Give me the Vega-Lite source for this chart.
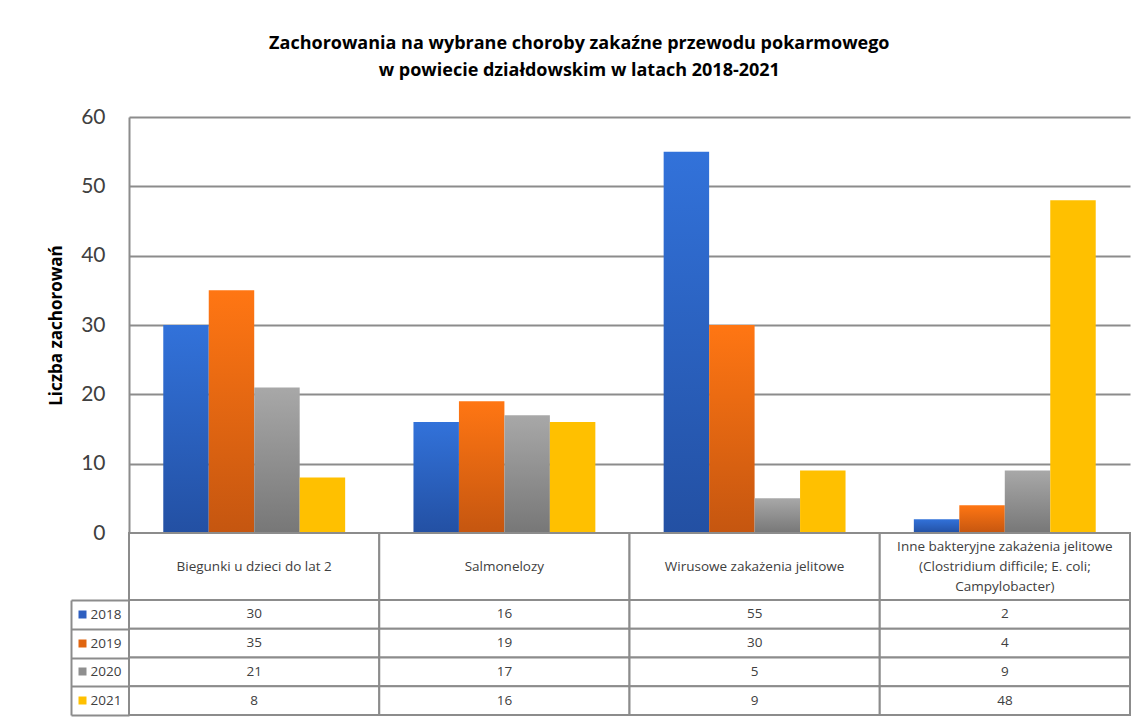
{
  "$schema": "https://vega.github.io/schema/vega-lite/v6.json",
  "background": "white",
  "padding": {"left": 47, "top": 35, "right": 10, "bottom": 4},
  "config": {"font": "Lato", "view": {"stroke": null}},
  "title": {
    "text": ["Zachorowania na wybrane choroby zakaźne przewodu pokarmowego", "w powiecie działdowskim w latach 2018-2021"],
    "font": "Open Sans", "fontSize": 18, "fontWeight": "bold", "color": "#000000", "anchor": "middle", "offset": 26, "dx": -10, "lineHeight": 27
  },
  "datasets": {
    "main": [
      {"category": "Biegunki u dzieci do lat 2", "year": "2018", "value": 30},
      {"category": "Biegunki u dzieci do lat 2", "year": "2019", "value": 35},
      {"category": "Biegunki u dzieci do lat 2", "year": "2020", "value": 21},
      {"category": "Biegunki u dzieci do lat 2", "year": "2021", "value": 8},
      {"category": "Salmonelozy", "year": "2018", "value": 16},
      {"category": "Salmonelozy", "year": "2019", "value": 19},
      {"category": "Salmonelozy", "year": "2020", "value": 17},
      {"category": "Salmonelozy", "year": "2021", "value": 16},
      {"category": "Wirusowe zakażenia jelitowe", "year": "2018", "value": 55},
      {"category": "Wirusowe zakażenia jelitowe", "year": "2019", "value": 30},
      {"category": "Wirusowe zakażenia jelitowe", "year": "2020", "value": 5},
      {"category": "Wirusowe zakażenia jelitowe", "year": "2021", "value": 9},
      {"category": "Inne bakteryjne zakażenia jelitowe (Clostridium difficile; E. coli; Campylobacter)", "year": "2018", "value": 2},
      {"category": "Inne bakteryjne zakażenia jelitowe (Clostridium difficile; E. coli; Campylobacter)", "year": "2019", "value": 4},
      {"category": "Inne bakteryjne zakażenia jelitowe (Clostridium difficile; E. coli; Campylobacter)", "year": "2020", "value": 9},
      {"category": "Inne bakteryjne zakażenia jelitowe (Clostridium difficile; E. coli; Campylobacter)", "year": "2021", "value": 48}
    ],
    "cats": [
      {"category": "Biegunki u dzieci do lat 2", "label": "Biegunki u dzieci do lat 2", "lines": 1},
      {"category": "Salmonelozy", "label": "Salmonelozy", "lines": 1},
      {"category": "Wirusowe zakażenia jelitowe", "label": "Wirusowe zakażenia jelitowe", "lines": 1},
      {"category": "Inne bakteryjne zakażenia jelitowe (Clostridium difficile; E. coli; Campylobacter)", "label": "Inne bakteryjne zakażenia jelitowe\n(Clostridium difficile; E. coli;\nCampylobacter)", "lines": 3}
    ]
  },
  "spacing": 0,
  "bounds": "flush",
  "resolve": {"scale": {"x": "independent", "y": "independent"}},
  "vconcat": [
    {
      "width": 1001, "height": 416,
      "data": {"name": "main"},
      "encoding": {
        "x": {"field": "category", "type": "nominal", "axis": null,
          "scale": {"domain": ["Biegunki u dzieci do lat 2", "Salmonelozy", "Wirusowe zakażenia jelitowe", "Inne bakteryjne zakażenia jelitowe (Clostridium difficile; E. coli; Campylobacter)"], "paddingInner": 0.273, "paddingOuter": 0.137}},
        "xOffset": {"field": "year", "type": "nominal", "scale": {"domain": ["2018", "2019", "2020", "2021"], "paddingInner": 0, "paddingOuter": 0}},
        "y": {"field": "value", "type": "quantitative",
          "scale": {"domain": [0, 60], "nice": false},
          "axis": {"values": [0, 10, 20, 30, 40, 50, 60], "title": "Liczba zachorowań", "titleFont": "Open Sans", "titleFontSize": 17, "titleFontWeight": "bold", "titleColor": "#000000", "titlePadding": 15,
            "labelFontSize": 21, "labelColor": "#404040", "labelPadding": 24, "ticks": false,
            "domain": true, "domainColor": "#8c8c8c", "domainWidth": 2,
            "grid": true, "gridColor": "#8c8c8c", "gridWidth": 2}}
      },
      "layer": [
        {"transform": [{"filter": "datum.year == '2018'"}],
         "mark": {"type": "bar", "color": {"gradient": "linear", "x1": 0, "y1": 0, "x2": 0, "y2": 1, "stops": [{"offset": 0, "color": "#3272da"}, {"offset": 1, "color": "#2350a3"}]}}},
        {"transform": [{"filter": "datum.year == '2019'"}],
         "mark": {"type": "bar", "color": {"gradient": "linear", "x1": 0, "y1": 0, "x2": 0, "y2": 1, "stops": [{"offset": 0, "color": "#ff7613"}, {"offset": 1, "color": "#c55610"}]}}},
        {"transform": [{"filter": "datum.year == '2020'"}],
         "mark": {"type": "bar", "color": {"gradient": "linear", "x1": 0, "y1": 0, "x2": 0, "y2": 1, "stops": [{"offset": 0, "color": "#a8a8a8"}, {"offset": 1, "color": "#777777"}]}}},
        {"transform": [{"filter": "datum.year == '2021'"}],
         "mark": {"type": "bar", "color": "#ffc000"}}
      ]
    },
    {
      "width": 1001, "height": 67,
      "data": {"name": "cats"},
      "encoding": {
        "x": {"field": "category", "type": "nominal", "axis": null,
          "scale": {"domain": ["Biegunki u dzieci do lat 2", "Salmonelozy", "Wirusowe zakażenia jelitowe", "Inne bakteryjne zakażenia jelitowe (Clostridium difficile; E. coli; Campylobacter)"], "paddingInner": 0, "paddingOuter": 0}}
      },
      "layer": [
        {"mark": {"type": "rect", "fill": "white", "stroke": "#8c8c8c", "strokeWidth": 2}},
        {"transform": [{"filter": "datum.lines == 1"}],
         "mark": {"type": "text", "font": "Open Sans", "fontSize": 13.5, "color": "#404040"},
         "encoding": {"text": {"field": "label"}}},
        {"transform": [{"filter": "datum.lines == 3"}],
         "mark": {"type": "text", "font": "Open Sans", "fontSize": 13.5, "color": "#404040", "lineBreak": "\n", "lineHeight": 20, "dy": -20},
         "encoding": {"text": {"field": "label"}}}
      ]
    },
    {
      "width": 1001, "height": 115,
      "data": {"name": "main"},
      "encoding": {
        "x": {"field": "category", "type": "nominal", "axis": null,
          "scale": {"domain": ["Biegunki u dzieci do lat 2", "Salmonelozy", "Wirusowe zakażenia jelitowe", "Inne bakteryjne zakażenia jelitowe (Clostridium difficile; E. coli; Campylobacter)"], "paddingInner": 0, "paddingOuter": 0}}
      },
      "layer": [
        {"mark": {"type": "rect", "fill": "white", "stroke": "#8c8c8c", "strokeWidth": 2},
         "encoding": {
           "y": {"field": "year", "type": "nominal",
             "scale": {"domain": ["2018", "2019", "2020", "2021"], "paddingInner": 0, "paddingOuter": 0},
             "axis": {"orient": "left", "offset": 58, "title": null, "domain": true, "domainColor": "#8c8c8c", "domainWidth": 2,
               "ticks": true, "tickBand": "extent", "tickSize": -58, "tickColor": "#8c8c8c", "tickWidth": 2,
               "labelAlign": "left", "labelPadding": 39, "labelFont": "Open Sans", "labelFontSize": 13.5, "labelColor": "#404040", "grid": false}}}},
        {"mark": {"type": "text", "font": "Open Sans", "fontSize": 13.5, "color": "#404040"},
         "encoding": {
           "y": {"field": "year", "type": "nominal",
             "axis": {"orient": "left", "offset": 43, "title": null, "domain": false, "labels": false, "grid": false,
               "ticks": true, "tickSize": 8, "tickWidth": 8, "tickCap": "butt",
               "tickColor": {"condition": [{"test": "datum.value === '2018'", "value": "#2e5fc0"}, {"test": "datum.value === '2019'", "value": "#e0650f"}, {"test": "datum.value === '2020'", "value": "#8f8f8f"}], "value": "#ffc000"}}},
           "text": {"field": "value", "type": "quantitative"}}}
      ],
      "resolve": {"axis": {"y": "independent"}}
    }
  ]
}
